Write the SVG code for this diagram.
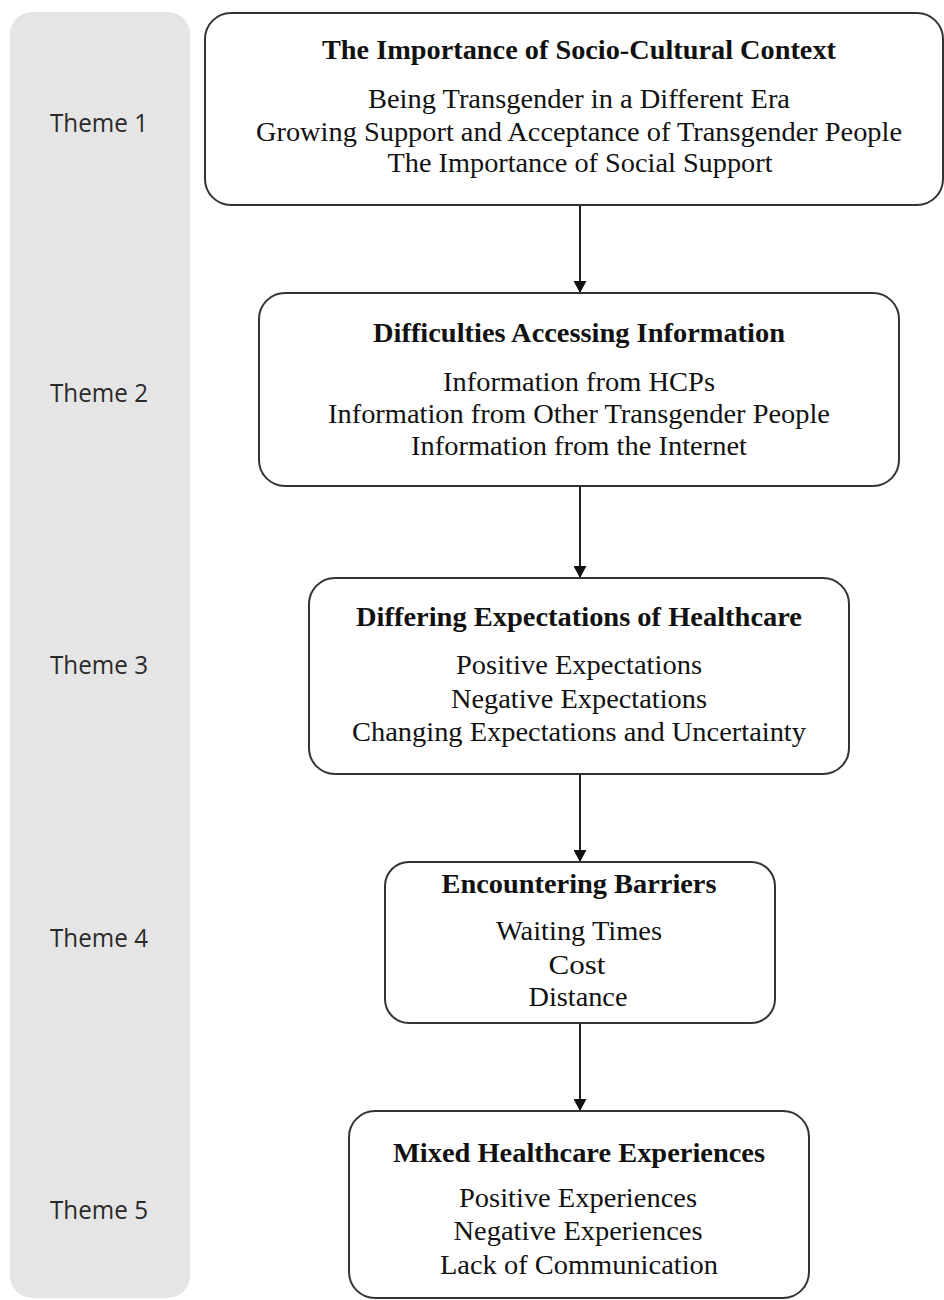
<svg xmlns="http://www.w3.org/2000/svg" width="944" height="1300" viewBox="0 0 944 1300">
<style>
.panel{fill:#e6e5e6}
.box{fill:#fff;stroke:#333;stroke-width:2}
.theme{font-family:"Open Sans","Noto Sans","Liberation Sans",sans-serif;font-size:25px;fill:#2a2a2a;text-anchor:middle}
.title{font-family:"Liberation Serif","Times New Roman",serif;font-weight:bold;font-size:27px;fill:#111;text-anchor:middle}
.item{font-family:"Liberation Serif","Times New Roman",serif;font-size:28px;fill:#111;text-anchor:middle}
.conn{stroke:#222;stroke-width:2;fill:none;marker-end:url(#arr)}
</style>
<defs>
<marker id="arr" viewBox="0 0 12 13" refX="12" refY="6.5" markerWidth="12" markerHeight="13" markerUnits="userSpaceOnUse" orient="auto">
<path d="M0,0 L12,6.5 L0,13 z" fill="#111"/>
</marker>
</defs>
<rect class="panel" x="10" y="12" width="180" height="1286" rx="22"/>
<g id="labels">
<text class="theme" x="99" y="132" textLength="98" lengthAdjust="spacingAndGlyphs">Theme 1</text>
<text class="theme" x="99" y="402" textLength="98" lengthAdjust="spacingAndGlyphs">Theme 2</text>
<text class="theme" x="99" y="674" textLength="98" lengthAdjust="spacingAndGlyphs">Theme 3</text>
<text class="theme" x="99" y="947" textLength="98" lengthAdjust="spacingAndGlyphs">Theme 4</text>
<text class="theme" x="99" y="1219" textLength="98" lengthAdjust="spacingAndGlyphs">Theme 5</text>
</g>
<g id="connectors">
<line class="conn" x1="580" y1="205" x2="580" y2="293"/>
<line class="conn" x1="580" y1="486" x2="580" y2="578"/>
<line class="conn" x1="580" y1="774" x2="580" y2="862"/>
<line class="conn" x1="580" y1="1023" x2="580" y2="1111"/>
</g>
<g id="theme1">
<rect class="box" x="205" y="13" width="738" height="192" rx="26"/>
<text class="title" x="579" y="59" textLength="514" lengthAdjust="spacingAndGlyphs">The Importance of Socio-Cultural Context</text>
<text class="item" x="579" y="108" textLength="422" lengthAdjust="spacingAndGlyphs">Being Transgender in a Different Era</text>
<text class="item" x="579" y="141" textLength="646" lengthAdjust="spacingAndGlyphs">Growing Support and Acceptance of Transgender People</text>
<text class="item" x="580" y="172" textLength="385" lengthAdjust="spacingAndGlyphs">The Importance of Social Support</text>
</g>
<g id="theme2">
<rect class="box" x="259" y="293" width="640" height="193" rx="26"/>
<text class="title" x="579" y="342" textLength="412" lengthAdjust="spacingAndGlyphs">Difficulties Accessing Information</text>
<text class="item" x="579" y="391" textLength="272" lengthAdjust="spacingAndGlyphs">Information from HCPs</text>
<text class="item" x="579" y="423" textLength="502" lengthAdjust="spacingAndGlyphs">Information from Other Transgender People</text>
<text class="item" x="579" y="455" textLength="336" lengthAdjust="spacingAndGlyphs">Information from the Internet</text>
</g>
<g id="theme3">
<rect class="box" x="309" y="578" width="540" height="196" rx="26"/>
<text class="title" x="579" y="626" textLength="446" lengthAdjust="spacingAndGlyphs">Differing Expectations of Healthcare</text>
<text class="item" x="579" y="674" textLength="246" lengthAdjust="spacingAndGlyphs">Positive Expectations</text>
<text class="item" x="579" y="708" textLength="256" lengthAdjust="spacingAndGlyphs">Negative Expectations</text>
<text class="item" x="579" y="741" textLength="454" lengthAdjust="spacingAndGlyphs">Changing Expectations and Uncertainty</text>
</g>
<g id="theme4">
<rect class="box" x="385" y="862" width="390" height="161" rx="24"/>
<text class="title" x="579" y="893" textLength="275" lengthAdjust="spacingAndGlyphs">Encountering Barriers</text>
<text class="item" x="579" y="940" textLength="166" lengthAdjust="spacingAndGlyphs">Waiting Times</text>
<text class="item" x="577" y="974" textLength="57" lengthAdjust="spacingAndGlyphs">Cost</text>
<text class="item" x="578" y="1006" textLength="99" lengthAdjust="spacingAndGlyphs">Distance</text>
</g>
<g id="theme5">
<rect class="box" x="349" y="1111" width="460" height="187" rx="26"/>
<text class="title" x="579" y="1162" textLength="372" lengthAdjust="spacingAndGlyphs">Mixed Healthcare Experiences</text>
<text class="item" x="578" y="1207" textLength="238" lengthAdjust="spacingAndGlyphs">Positive Experiences</text>
<text class="item" x="578" y="1240" textLength="249" lengthAdjust="spacingAndGlyphs">Negative Experiences</text>
<text class="item" x="579" y="1274" textLength="278" lengthAdjust="spacingAndGlyphs">Lack of Communication</text>
</g>
</svg>
